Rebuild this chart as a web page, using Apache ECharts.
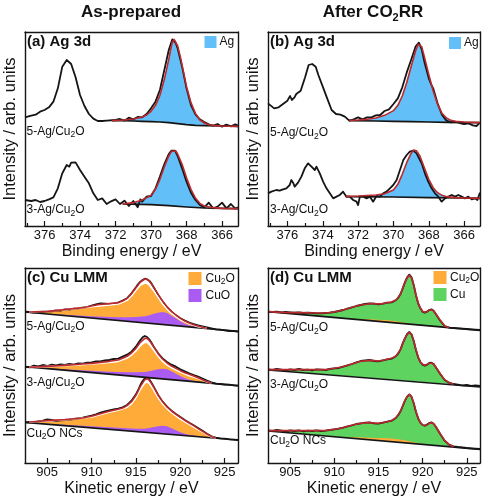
<!DOCTYPE html>
<html><head><meta charset="utf-8">
<script src="https://cdn.jsdelivr.net/npm/echarts@6/dist/echarts.min.js"></script>
<style>html,body{margin:0;padding:0;background:#fff}#c{width:484px;height:500px}</style>
</head><body><div id="c"></div><script>
// ---------- data: [energy (eV), intensity (arb. units)] ----------
// (a) As-prepared, Ag 3d
const a5Data = [[377.1,326],[377,328],[376.75,331],[376.5,334],[376.25,343],[376,348],[375.75,356],[375.5,373],[375.25,413],[375,478],[374.75,498],[374.5,486],[374.25,446],[374,393],[373.75,360],[373.5,336],[373.25,322],[373,315],[372.75,315],[372.5,316],[372,318],[371.75,321],[371.5,316],[371.25,325],[371,320],[370.75,327],[370.5,326],[370.25,336],[370,353],[369.75,373],[369.5,408],[369.25,468],[369,528],[368.8,560],[368.6,548],[368.5,533],[368.25,478],[368,413],[367.75,363],[367.5,335],[367.25,320],[367,312],[366.75,305],[366.5,301],[366.25,306],[366,298],[365.75,304],[365.5,299],[365.25,305],[365.1,301]];
const a5Fit = [[372.2,316],[371.5,318],[371,321],[370.5,327],[370.25,333],[370,344],[369.75,362],[369.5,392],[369.25,440],[369,500],[368.9,528],[368.8,552],[368.7,560],[368.6,556],[368.5,540],[368.35,508],[368.2,470],[368,418],[367.75,370],[367.5,338],[367.25,318],[367,309],[366.75,304],[366.5,302],[366,300],[365.1,299]];
const a5Bg = [[372.2,316],[371.5,316],[371,315],[370.5,314],[370,313],[369.5,312],[369,310],[368.5,307],[368,304],[367.5,302],[367,301],[366,300],[365.1,299]];
const a3Data = [[377.1,78],[377,80],[376.75,75],[376.5,78],[376.25,72],[376,75],[375.75,80],[375.5,86],[375.25,113],[375,158],[374.9,168],[374.75,183],[374.6,178],[374.5,190],[374.25,191],[374,168],[373.75,148],[373.5,128],[373.25,98],[373,78],[372.75,83],[372.5,66],[372.25,74],[372,80],[371.75,66],[371.5,76],[371.25,60],[371,75],[370.75,56],[370.6,80],[370.5,73],[370.25,88],[370,90],[369.75,113],[369.5,148],[369.25,186],[369,216],[368.85,226],[368.75,223],[368.65,226],[368.5,210],[368.25,173],[368,133],[367.75,100],[367.5,78],[367.25,63],[367,56],[366.75,70],[366.5,53],[366.25,58],[366,70],[365.75,53],[365.5,66],[365.25,52],[365.1,56]];
const a3Fit = [[371.6,66],[371,70],[370.5,78],[370,92],[369.75,110],[369.5,140],[369.25,178],[369,210],[368.85,224],[368.75,227],[368.6,225],[368.5,216],[368.25,185],[368,145],[367.75,110],[367.5,84],[367.25,68],[367,60],[366.5,55],[366,53],[365.1,52]];
const a3Bg = [[371.6,66],[370,64],[369,61],[368,57],[367,54],[366,53],[365.1,52]];
// (b) After CO2RR, Ag 3d
const b5Data = [[377.1,368],[377,364],[376.75,353],[376.5,356],[376.25,366],[376,376],[375.85,390],[375.75,378],[375.6,386],[375.5,396],[375.25,406],[375,446],[374.8,483],[374.6,486],[374.4,478],[374.25,453],[374,418],[373.75,383],[373.5,348],[373.25,336],[373,334],[372.75,328],[372.5,316],[372.25,320],[372,326],[371.75,320],[371.5,326],[371.25,326],[371,332],[370.75,333],[370.5,345],[370.25,350],[370,366],[369.75,383],[369.5,416],[369.25,460],[369,498],[368.75,538],[368.56,550],[368.4,530],[368.25,493],[368,443],[367.85,423],[367.75,413],[367.5,368],[367.25,333],[367,316],[366.75,311],[366.5,313],[366.25,309],[366,306],[365.75,308],[365.5,302],[365.3,300],[365.1,310]];
const b5Fit = [[372.5,317],[372,318],[371.5,320],[371,324],[370.5,332],[370,346],[369.75,362],[369.5,390],[369.25,430],[369,478],[368.75,525],[368.6,545],[368.5,548],[368.4,538],[368.25,508],[368,455],[367.75,405],[367.5,365],[367.25,338],[367,324],[366.75,317],[366.5,314],[366,312],[365.5,311],[365.1,310]];
const b5Bg = [[372.5,316],[371,315],[370,314],[369,313],[368,312],[367,311],[366,310],[365.1,310]];
const b3Data = [[377.1,98],[376.91,103],[376.63,108],[376.44,106],[376.25,110],[376.06,113],[375.87,123],[375.78,138],[375.68,130],[375.59,118],[375.4,130],[375.21,148],[375.02,173],[374.83,188],[374.64,178],[374.45,168],[374.36,178],[374.17,158],[373.98,133],[373.79,113],[373.6,98],[373.41,83],[373.22,88],[373.04,93],[372.85,103],[372.66,88],[372.47,88],[372.28,78],[372.09,73],[372,63],[371.9,88],[371.71,88],[371.52,83],[371.33,88],[371.15,73],[370.96,90],[370.77,88],[370.58,98],[370.39,103],[370.2,113],[370.01,123],[369.82,138],[369.63,168],[369.44,198],[369.25,213],[369.07,223],[368.88,226],[368.69,218],[368.5,198],[368.4,188],[368.22,158],[368.03,133],[367.84,113],[367.65,98],[367.46,88],[367.27,73],[367.08,83],[366.89,88],[366.7,93],[366.51,88],[366.33,93],[366.14,88],[365.95,83],[365.76,88],[365.57,80],[365.38,83],[365.25,78],[365.1,100]];
const b3Fit = [[372.7,89],[372,90],[371,93],[370.5,97],[370,108],[369.75,125],[369.5,155],[369.25,190],[369,218],[368.85,228],[368.7,226],[368.5,210],[368.25,175],[368,140],[367.75,115],[367.5,100],[367.25,92],[367,88],[366.5,85],[366,84],[365.1,83]];
const b3Bg = [[372.7,88],[370,87],[368,85],[366,84],[365.1,83]];
// (c) As-prepared, Cu LMM
const c5Data = [[902.5,454],[903,453],[903.5,451],[904,452],[904.5,454],[905,455],[905.5,455],[906,458],[906.5,457],[907,461],[907.5,460],[908,463],[908.5,464],[909,466],[909.5,468],[910,472],[910.5,476],[911,479],[911.5,478],[912,477],[912.5,478],[913,481],[913.5,487],[914,494],[914.5,509],[915,527],[915.25,537],[915.5,544],[915.75,549],[916,553],[916.25,551],[916.5,547],[916.75,539],[917,527],[917.5,504],[918,484],[918.5,467],[919,454],[919.5,443],[920,434],[920.5,427],[921,421],[921.5,417],[922,413],[922.5,410],[923,407],[923.5,404],[924,401],[924.5,400],[925,398],[925.5,396],[926,396],[926.5,394]];
const c5Fit = [[903,453],[905,455],[907,460],[909,466],[910,471],[911,476],[912,478],[913,481],[913.5,486],[914,494],[914.5,508],[915,526],[915.5,543],[916,552],[916.25,551],[916.5,546],[917,528],[917.5,506],[918,486],[918.5,469],[919,455],[919.5,444],[920,434],[920.5,426],[921,420],[921.5,415],[922,411],[922.5,407],[923,404]];
const c5Cu2O = [[903,453],[907,459],[910,469],[912,474],[913,477],[914,488],[914.5,501],[915,518],[915.5,534],[916,540],[916.25,539],[916.5,534],[917,517],[917.5,497],[918,478],[918.5,462],[919,449],[919.5,439],[920,430],[921,418],[922,409],[923,404]];
const c5CuO = [[903,452],[904,450],[906,446],[908,443],[910,440],[912,438],[913,437],[914,437],[915,438],[916,440],[916.5,443],[917,448],[917.5,451],[918,453],[918.5,450],[919,442],[919.5,434],[920,425],[920.5,418],[921,413],[922,407],[923,404]];
const c5Bg = [[902.5,453],[926.5,395]];
const c3Data = [[902.5,289],[903,287],[903.5,292],[904,290],[904.5,294],[905,291],[905.5,295],[906,293],[906.5,296],[907,294],[907.5,297],[908,295],[908.5,299],[909,298],[909.5,301],[910,302],[910.5,305],[911,305],[911.5,308],[912,309],[912.5,312],[913,313],[913.5,319],[914,325],[914.5,334],[915,349],[915.25,359],[915.5,369],[915.75,377],[916,381],[916.25,378],[916.5,371],[916.75,361],[917,349],[917.5,329],[918,314],[918.5,303],[919,295],[919.5,289],[920,281],[920.5,275],[921,269],[921.5,264],[922,259],[922.5,253],[923,247],[923.5,242],[924,238],[924.5,237],[925,235],[925.5,235],[926,233],[926.5,232]];
const c3Fit = [[903,287],[905,290],[907,293],[909,297],[910,299],[911,302],[912,305],[913,309],[913.5,314],[914,320],[914.5,330],[915,344],[915.5,362],[916,374],[916.25,374],[916.5,368],[917,349],[917.5,328],[918,312],[918.5,300],[919,291],[919.5,284],[920,277],[920.5,271],[921,266],[921.5,261],[922,256],[922.5,250],[923,244],[923.5,240]];
const c3Cu2O = [[903,287],[907,292],[910,297],[912,302],[913,305],[914,315],[914.5,324],[915,336],[915.5,352],[916,362],[916.25,362],[916.5,356],[917,339],[917.5,320],[918,305],[918.5,294],[919,286],[920,273],[921,262],[922,254],[922.5,248],[923,243],[923.5,240]];
const c3CuO = [[903,288],[904,286],[906,283],[908,280],[910,277],[912,274],[913,273],[914,272],[915,272],[916,273],[916.5,275],[917,278],[917.5,281],[918,283],[918.5,281],[919,275],[919.5,268],[920,261],[920.5,255],[921,250],[922,244],[923,241]];
const c3Bg = [[902.5,289],[926.5,232]];
const c1Data = [[902.5,122],[903,123],[903.5,121],[904,125],[904.5,127],[905,131],[905.5,129],[906,126],[906.5,128],[907,129],[907.5,130],[908,132],[908.5,134],[909,136],[909.5,139],[910,142],[910.5,146],[911,151],[911.5,155],[912,158],[912.5,161],[913,163],[913.5,167],[914,174],[914.5,187],[915,206],[915.25,219],[915.5,234],[915.75,246],[916,254],[916.25,256],[916.5,251],[916.75,241],[917,229],[917.5,204],[918,184],[918.5,169],[919,157],[919.5,147],[920,138],[920.5,129],[921,121],[921.5,113],[922,105],[922.5,97],[923,88],[923.5,80],[924,76],[924.5,74],[925,73],[925.5,71],[926,70],[926.5,69]];
const c1Fit = [[903,123],[905,127],[907,130],[909,135],[910,140],[911,148],[912,155],[913,161],[913.5,165],[914,172],[914.5,184],[915,203],[915.5,230],[916,250],[916.25,253],[916.5,249],[917,228],[917.5,203],[918,184],[918.5,168],[919,156],[919.5,146],[920,137],[920.5,128],[921,120],[921.5,112],[922,103],[922.5,95],[923,87],[923.5,79],[924,75]];
const c1Cu2O = [[903,123],[907,129],[910,138],[912,152],[913,158],[914,167],[914.5,178],[915,196],[915.5,221],[916,240],[916.25,243],[916.5,239],[917,219],[917.5,196],[918,178],[918.5,163],[919,151],[920,132],[921,116],[922,100],[923,85],[923.5,78],[924,75]];
const c1CuO = [[903,121],[904,119],[906,116],[908,113],[910,110],[912,107],[913,106],[914,104],[915,103],[916,103],[916.5,105],[917,108],[917.5,110],[918,112],[918.5,110],[919,104],[919.5,98],[920,92],[920.5,88],[921,85],[922,81],[923,77]];
const c1Bg = [[902.5,122],[926.5,69]];
// (d) After CO2RR, Cu LMM
const d5Data = [[902.5,453],[903,453],[903.5,454],[904,452],[904.5,453],[905,452],[905.5,451],[906,452],[906.5,450],[907,451],[907.5,450],[908,449],[908.5,449],[909,450],[909.5,451],[910,453],[910.5,456],[911,459],[911.5,463],[912,467],[912.5,471],[913,474],[913.5,477],[914,479],[914.5,478],[915,476],[915.5,478],[916,481],[916.5,482],[917,489],[917.25,496],[917.5,507],[917.75,524],[918,542],[918.25,557],[918.5,565],[918.75,557],[919,534],[919.25,504],[919.5,479],[919.75,464],[920,454],[920.25,451],[920.5,454],[920.75,459],[921,461],[921.25,457],[921.5,447],[922,427],[922.5,411],[923,406],[923.5,405],[924,404],[924.5,403],[925,402],[925.5,401],[926,400],[926.5,399]];
const d5Fit = [[902.5,454],[904,452],[906,451],[908,450],[909,450],[910,453],[911,459],[912,467],[913,474],[914,478],[914.5,478],[915,477],[915.5,478],[916,481],[916.5,483],[917,489],[917.5,506],[917.75,524],[918,542],[918.25,556],[918.5,563],[918.75,555],[919,533],[919.25,503],[919.5,479],[919.75,464],[920,455],[920.25,452],[920.5,454],[920.75,459],[921,460],[921.25,456],[921.5,447],[922,428],[922.5,411],[923,406]];
const d5Cu2O = [[911,434.5],[912,433],[913,432],[914,431],[915,430],[916,428],[917,425],[918,421],[919,417],[920,413]];
const d5Bg = [[902.5,454],[926.5,398]];
const d3Data = [[902.5,281],[903,279],[903.5,282],[904,280],[904.5,278],[905,281],[905.5,279],[906,282],[906.5,279],[907,280],[907.5,278],[908,281],[908.5,280],[909,279],[909.5,282],[910,284],[910.5,285],[911,289],[911.5,293],[912,297],[912.5,302],[913,306],[913.5,308],[914,309],[914.5,306],[915,305],[915.5,308],[916,311],[916.5,313],[917,321],[917.25,329],[917.5,341],[917.75,359],[918,374],[918.25,387],[918.5,393],[918.75,386],[919,366],[919.25,339],[919.5,317],[919.75,303],[920,295],[920.25,292],[920.5,295],[920.75,300],[921,301],[921.25,297],[921.5,287],[922,267],[922.5,249],[923,241],[923.5,237],[924,235],[924.5,233],[925,234],[925.5,231],[926,233],[926.5,231]];
const d3Fit = [[902.5,280],[904,280],[906,280],[908,280],[909,280],[910,284],[911,289],[912,297],[913,305],[914,308],[914.5,307],[915,306],[915.5,308],[916,311],[916.5,314],[917,321],[917.5,340],[917.75,358],[918,374],[918.25,386],[918.5,391],[918.75,385],[919,366],[919.25,340],[919.5,317],[919.75,303],[920,296],[920.25,293],[920.5,295],[920.75,299],[921,300],[921.25,296],[921.5,287],[922,267],[922.5,250],[923,241],[923.5,236]];
const d3Bg = [[902.5,279],[926.5,228]];
const d1Data = [[902.5,98],[903,96],[903.5,99],[904,97],[904.5,95],[905,98],[905.5,96],[906,98],[906.5,95],[907,97],[907.5,96],[908,98],[908.5,96],[909,97],[909.5,99],[910,101],[910.5,103],[911,106],[911.5,110],[912,113],[912.5,117],[913,119],[913.5,121],[914,122],[914.5,119],[915,118],[915.5,121],[916,124],[916.5,127],[917,136],[917.25,144],[917.5,155],[917.75,171],[918,187],[918.25,199],[918.5,206],[918.75,199],[919,179],[919.25,154],[919.5,134],[919.75,121],[920,114],[920.25,112],[920.5,115],[920.75,120],[921,122],[921.25,118],[921.5,109],[922,87],[922.5,67],[923,55],[923.5,50],[924,48],[924.5,47],[925,45],[925.5,44],[926,43],[926.5,42]];
const d1Fit = [[902.5,97],[904,97],[906,97],[908,97],[909,97.5],[910,101],[911,106],[912,113],[913,119],[914,121],[914.5,120],[915,119],[915.5,121],[916,124],[916.5,127],[917,136],[917.5,155],[917.75,171],[918,187],[918.25,199],[918.5,205],[918.75,198],[919,179],[919.25,154],[919.5,134],[919.75,121],[920,114],[920.25,112],[920.5,115],[920.75,119],[921,121],[921.25,118],[921.5,109],[922,87],[922.5,67],[923,55],[923.5,49]];
const d1Cu2O = [[911,77],[912,77],[913,77],[914,76],[915,75],[916,74],[917,72],[918,68],[919,62],[920,56]];
const d1Bg = [[902.5,96],[926.5,41]];

// tick values
const agMajor = [366,368,370,372,374,376];
const agMinor = [367,369,371,373,375,377];
const cuMajor = [905,910,915,920,925];
const cuMinor = [907.5,912.5,917.5,922.5];

// ---------- chart ----------
const FONT = '"Liberation Sans", Arial, Helvetica, sans-serif';
const INK = '#151515';
const BLUE = '#62bff8', ORANGE = '#ffab3a', PURPLE = '#aa5cf2', GREEN = '#5fd35f', RED = '#bb2a2e';

const grids = [
  {left:25, top:32, width:213, height:194},
  {left:268, top:32, width:212, height:194},
  {left:25, top:268, width:213, height:195},
  {left:268, top:268, width:212, height:195}
].map(g => Object.assign({outerBoundsMode:'none', containLabel:false}, g));

const xAxes = [], yAxes = [];
function addAxes(gi, min, max, inverse, majors, minors, xname, ymax) {
  const ls = {color:INK, width:1.4};
  xAxes.push({type:'value', gridIndex:gi, min, max, inverse, position:'bottom', z:50,
    axisLine:{show:true, onZero:false, lineStyle:ls},
    axisTick:{show:true, inside:true, length:5, customValues:majors, lineStyle:{color:INK, width:1.2}},
    axisLabel:{show:true, customValues:majors, margin:3, fontSize:13, color:'#111', fontFamily:FONT},
    splitLine:{show:false},
    name:xname, nameLocation:'middle', nameGap:18,
    nameTextStyle:{fontSize:16, color:'#111', fontFamily:FONT}});
  xAxes.push({type:'value', gridIndex:gi, min, max, inverse, position:'bottom', z:50,
    axisLine:{show:false},
    axisTick:{show:true, inside:true, length:3, customValues:minors, lineStyle:{color:INK, width:1.2}},
    axisLabel:{show:false}, splitLine:{show:false}});
  xAxes.push({type:'value', gridIndex:gi, min, max, inverse, position:'top', z:50,
    axisLine:{show:true, onZero:false, lineStyle:ls},
    axisTick:{show:false}, axisLabel:{show:false}, splitLine:{show:false}});
  yAxes.push({type:'value', gridIndex:gi, min:0, max:ymax, position:'left', z:50,
    axisLine:{show:true, onZero:false, lineStyle:ls},
    axisTick:{show:false}, axisLabel:{show:false}, splitLine:{show:false},
    name:'Intensity / arb. units', nameLocation:'middle', nameGap:6,
    nameTextStyle:{fontSize:16.5, color:'#111', fontFamily:FONT}});
  yAxes.push({type:'value', gridIndex:gi, min:0, max:ymax, position:'right', z:50,
    axisLine:{show:true, onZero:false, lineStyle:ls},
    axisTick:{show:false}, axisLabel:{show:false}, splitLine:{show:false}});
}
addAxes(0, 365.1, 377.1, true, agMajor, agMinor, 'Binding energy / eV', 582);
addAxes(1, 365.1, 377.1, true, agMajor, agMinor, 'Binding energy / eV', 582);
addAxes(2, 902.5, 926.5, false, cuMajor, cuMinor, 'Kinetic energy / eV', 585);
addAxes(3, 902.5, 926.5, false, cuMajor, cuMinor, 'Kinetic energy / eV', 585);

// filled component: region between an upper curve and the background curve,
// drawn as a polygon through the axes' own coordinate mapping (api.coord)
let zc = 2;
const fills = [], lines = [];
function poly(gi, top, bottom, color) {
  fills.push({type:'custom', xAxisIndex:3*gi, yAxisIndex:2*gi, z:zc++, silent:true, clip:true,
    data:[top[0]],
    renderItem:(params, api) => {
      const asc = top[0][0] < top[top.length-1][0];
      const lo = Math.min(top[0][0], top[top.length-1][0]);
      const hi = Math.max(top[0][0], top[top.length-1][0]);
      const back = bottom.filter(p => p[0] > lo && p[0] < hi)
                         .sort((p, q) => asc ? q[0] - p[0] : p[0] - q[0]);
      const pts = top.concat(back).map(p => api.coord(p));
      return {type:'polygon', shape:{points:pts}, style:{fill:color}};
    }});
}
function line(gi, data, color, width, z) {
  lines.push({type:'line', xAxisIndex:3*gi, yAxisIndex:2*gi, data, symbol:'none', silent:true,
    lineStyle:{color, width, join:'round'}, z});
}
// panel a / b
poly(0, a5Fit, a5Bg, BLUE); poly(0, a3Fit, a3Bg, BLUE);
poly(1, b5Fit, b5Bg, BLUE); poly(1, b3Fit, b3Bg, BLUE);
// panel c
poly(2, c5Cu2O, c5Bg, ORANGE); poly(2, c5CuO, c5Bg, PURPLE);
poly(2, c3Cu2O, c3Bg, ORANGE); poly(2, c3CuO, c3Bg, PURPLE);
poly(2, c1Cu2O, c1Bg, ORANGE); poly(2, c1CuO, c1Bg, PURPLE);
// panel d
poly(3, d5Fit, d5Bg, GREEN); poly(3, d5Cu2O, d5Bg, ORANGE);
poly(3, d3Fit, d3Bg, GREEN);
poly(3, d1Fit, d1Bg, GREEN); poly(3, d1Cu2O, d1Bg, ORANGE);

// lines
[[0,a5Data],[0,a3Data],[1,b5Data],[1,b3Data],[2,c5Data],[2,c3Data],[2,c1Data],[3,d5Data],[3,d3Data],[3,d1Data]]
  .forEach(([g,d]) => line(g, d, INK, 1.8, 30));
[[0,a5Bg],[0,a3Bg],[1,b5Bg],[1,b3Bg],[2,c5Bg],[2,c3Bg],[2,c1Bg],[3,d5Bg],[3,d3Bg],[3,d1Bg]]
  .forEach(([g,d]) => line(g, d, INK, 1.6, 31));
[[2,c5Cu2O],[2,c3Cu2O],[2,c1Cu2O]].forEach(([g,d]) => line(g, d, '#ffffff', 1.6, 32));
[[0,a5Fit],[0,a3Fit],[1,b5Fit],[1,b3Fit],[2,c5Fit],[2,c3Fit],[2,c1Fit],[3,d5Fit],[3,d3Fit],[3,d1Fit]]
  .forEach(([g,d]) => line(g, d, RED, 1.6, 33));

// ---------- text / legend graphics ----------
function txt(x, y, text, size, opt) {
  opt = opt || {};
  return {type:'text', x, y, z:100, silent:true, style:{
    text, fontSize:size, fontFamily:FONT, fontWeight:opt.bold ? 'bold' : 'normal',
    fill:'#111', align:opt.align || 'left', verticalAlign:'middle',
    lineHeight:opt.lh || Math.round(size * 1.3),
    rich: opt.sub ? {s:{fontSize:opt.sub, lineHeight:opt.sub, verticalAlign:'bottom', fontFamily:FONT, fontWeight:opt.bold ? 'bold' : 'normal', fill:'#111'}} : undefined
  }};
}
function rect(x, y, w, h, color) {
  return {type:'rect', z:100, silent:true, shape:{x, y, width:w, height:h}, style:{fill:color}};
}
const graphics = [
  txt(131, 12.5, 'As-prepared', 17, {bold:true, align:'center'}),
  txt(373, 12.5, 'After CO{s|2}RR', 17, {bold:true, align:'center', sub:11, lh:22}),
  txt(27, 41.5, '(a) Ag 3d', 15, {bold:true}),
  txt(270, 41.5, '(b) Ag 3d', 15, {bold:true}),
  txt(27, 277.5, '(c) Cu LMM', 15, {bold:true}),
  txt(270, 277.5, '(d) Cu LMM', 15, {bold:true}),
  rect(204.5, 36, 12, 12, BLUE), txt(219.5, 42, 'Ag', 12),
  rect(449, 37, 12, 12, BLUE), txt(464, 43, 'Ag', 12),
  rect(188.5, 272, 13, 13, ORANGE), txt(205.5, 278.5, 'Cu{s|2}O', 12, {sub:8.5, lh:16}),
  rect(188.5, 289, 13, 13, PURPLE), txt(205.5, 295.5, 'CuO', 12),
  rect(433.5, 271, 13, 13, ORANGE), txt(450, 277.5, 'Cu{s|2}O', 12, {sub:8.5, lh:16}),
  rect(433.5, 288, 13, 13, GREEN), txt(450, 294.5, 'Cu', 12),
  txt(26.5, 131.5, '5-Ag/Cu{s|2}O', 12, {sub:8.5, lh:16}),
  txt(26.5, 210, '3-Ag/Cu{s|2}O', 12, {sub:8.5, lh:16}),
  txt(270, 133, '5-Ag/Cu{s|2}O', 12, {sub:8.5, lh:16}),
  txt(270, 210, '3-Ag/Cu{s|2}O', 12, {sub:8.5, lh:16}),
  txt(26.5, 326.5, '5-Ag/Cu{s|2}O', 12, {sub:8.5, lh:16}),
  txt(26.5, 383, '3-Ag/Cu{s|2}O', 12, {sub:8.5, lh:16}),
  txt(26.5, 433.5, 'Cu{s|2}O NCs', 12, {sub:8.5, lh:16}),
  txt(270, 328, '5-Ag/Cu{s|2}O', 12, {sub:8.5, lh:16}),
  txt(270, 385, '3-Ag/Cu{s|2}O', 12, {sub:8.5, lh:16}),
  txt(270, 441, 'Cu{s|2}O NCs', 12, {sub:8.5, lh:16})
];

const chart = echarts.init(document.getElementById('c'), null, {renderer:'canvas', devicePixelRatio:1});
chart.setOption({
  animation:false,
  backgroundColor:'#ffffff',
  grid:grids,
  xAxis:xAxes,
  yAxis:yAxes,
  series:fills.concat(lines),
  graphic:graphics
});
</script></body></html>
